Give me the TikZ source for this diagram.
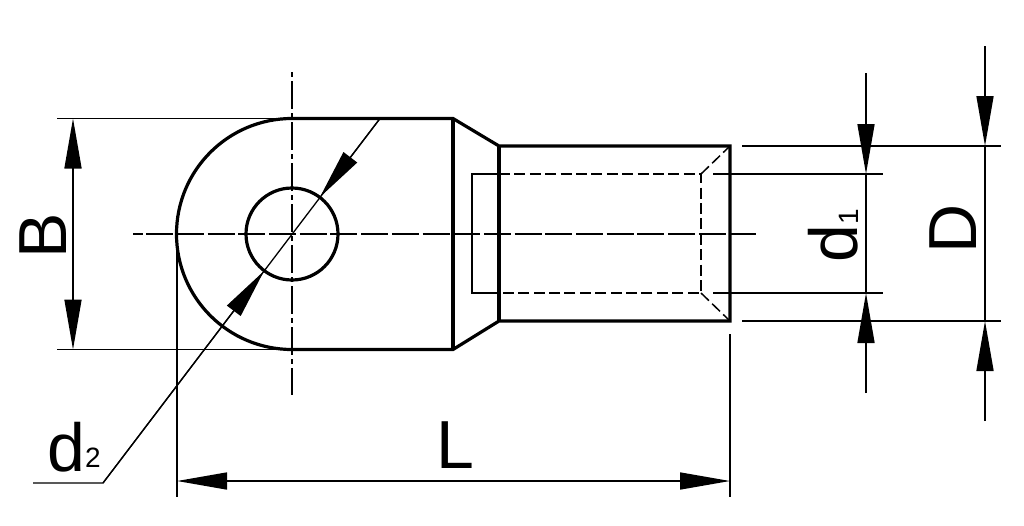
\documentclass[tikz,border=0pt]{standalone}
\usepackage{fontspec}
\setmainfont{Liberation Sans}
\usetikzlibrary{arrows.meta}
\tikzset{
 outline/.style={line width=3.2pt,line join=miter},
 thin line/.style={line width=1.6pt},
 hidden/.style={line width=1.5pt,dash pattern=on 11pt off 4.4pt},
 axis/.style={line width=1.6pt,dash pattern=on 27pt off 3.7pt,dash phase=17.5pt},
 axisv/.style={line width=1.6pt,dash pattern=on 5pt off 4pt on 28pt off 4pt},
 dimtip/.style={-{Triangle[length=50pt,width=17pt]}},
 label/.style={inner sep=0pt,text=black,font=\fontsize{68}{68}\selectfont},
 sub/.style={inner sep=0pt,text=black,font=\fontsize{28}{28}\selectfont}
}
\begin{document}
\begin{tikzpicture}[x=1pt,y=-1pt]
\useasboundingbox (0,0) rectangle (1024,525);
\fill[white] (0,0) rectangle (1024,525);
% centre lines
\coordinate (hl) at (133,234); \coordinate (hr) at (756,234);
\coordinate (vt) at (292,72); \coordinate (vb) at (292,395);
\draw[axis] (hl) -- (hr);
\draw[axisv] (vt) -- (vb);
% hidden contour
\draw[thin line] (499,174) -- (472,174) -- (472,293) -- (499,293);
\draw[hidden] (499,174) -- (701,174) -- (701,293) -- (499,293);
\draw[hidden] (701,174) -- (730,146);
\draw[hidden] (701,293) -- (730,321);
\draw[thin line] (713,174) -- (883,174);
\draw[thin line] (713,293) -- (883,293);
% extension lines
\draw[thin line] (57,118.5) -- (292,118.5);
\draw[thin line] (57,349.5) -- (292,349.5);
\draw[thin line] (742,146) -- (1001,146);
\draw[thin line] (742,321) -- (1001,321);
\draw[thin line] (177,234) -- (177,497);
\draw[thin line] (730,334) -- (730,497);
% outline
\draw[outline] (292,118.5) -- (453,118.5) -- (499,146) -- (730,146) -- (730,321) -- (499,321) -- (453,349.5) -- (292,349.5)
  arc[start angle=90,end angle=270,radius=115.5];
\draw[outline] (453,118.5) -- (453,349.5);
\draw[outline] (499,146) -- (499,321);
\node[circle,draw,line width=3.2pt,minimum size=92pt,inner sep=0pt] (hole) at (292,234) {};
% dimension L
\coordinate (la) at (177,481); \coordinate (lb) at (730,481); \coordinate (lm) at (453,481);
\draw[thin line,dimtip] (lm) -- (la);
\draw[thin line,dimtip] (lm) -- (lb);
% dimension B
\coordinate (ba) at (73,118.5); \coordinate (bb) at (73,349.5); \coordinate (bm) at (73,234);
\draw[thin line,dimtip] (bm) -- (ba);
\draw[thin line,dimtip] (bm) -- (bb);
% dimension d1
\coordinate (d1s) at (866,73); \coordinate (d1a) at (866,174);
\coordinate (d1e) at (866,393); \coordinate (d1b) at (866,293);
\draw[thin line,dimtip] (d1s) -- (d1a);
\draw[thin line,dimtip] (d1e) -- (d1b);
\draw[thin line] (d1a) -- (d1b);
% dimension D
\coordinate (ds) at (985,46); \coordinate (da) at (985,146);
\coordinate (de) at (985,421); \coordinate (db) at (985,321);
\draw[thin line,dimtip] (ds) -- (da);
\draw[thin line,dimtip] (de) -- (db);
\draw[thin line] (da) -- (db);
% dimension d2
\coordinate (dt) at (380,118.5); \coordinate (dk) at (103,483); \coordinate (dl) at (33,483);
\coordinate (tipu) at (320,197); \coordinate (tipl) at (264,271);
\draw[line width=1.3pt] (dl) -- (dk) -- (dt);
\draw[line width=1.3pt,dimtip] (dt) -- (tipu);
\draw[line width=1.3pt,dimtip] (dk) -- (tipl);
% labels
\node[label,rotate=90] (tb) at (43,236) {B};
\node[label] (tl) at (455,445) {L};
\node[label,rotate=90] (td1) at (833,244) {d};
\node[sub,rotate=90] (td1s) at (849,217) {1};
\node[label,rotate=90] (tdd) at (953,229) {D};
\node[label] (td2) at (66,447) {d};
\node[sub] (td2s) at (93,458) {2};
\end{tikzpicture}
\end{document}
